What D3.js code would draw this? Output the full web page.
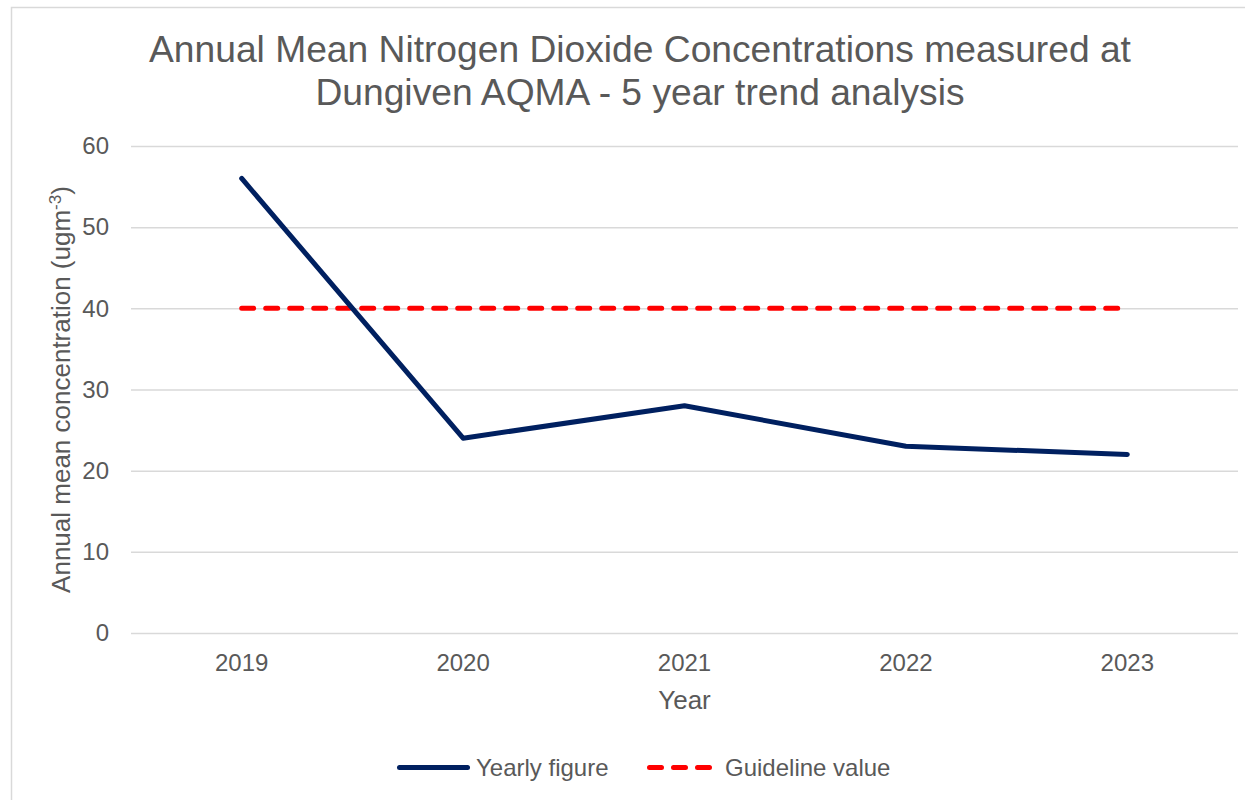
<!doctype html>
<html lang="en">
<head>
  <meta charset="utf-8">
  <title>Dungiven AQMA NO2 trend</title>
  <script src="https://d3js.org/d3.v7.min.js"></script>
<style>
  body { margin: 0; background: #fff; }
  text { font-family: "Liberation Sans", Arial, sans-serif; fill: #595959; }
</style>
</head>
<body>
<div id="chart"></div>
<script>
  // data
  var years = ["2019", "2020", "2021", "2022", "2023"];
  var yearly = [56, 24, 28, 23, 22];
  var guideline = [40, 40, 40, 40, 40];
  var yTicks = [0, 10, 20, 30, 40, 50, 60];

  var W = 1245, H = 800;
  var margin = {top: 146, right: 7, bottom: 167, left: 131},
      width = W - margin.left - margin.right,
      height = H - margin.top - margin.bottom;

  var svg = d3.select("#chart").append("svg")
      .attr("width", W)
      .attr("height", H);

  // outer chart border
  svg.append("rect")
      .attr("x", 11.5).attr("y", 7.5)
      .attr("width", W).attr("height", H)
      .attr("fill", "none")
      .attr("stroke", "#d9d9d9")
      .attr("stroke-width", 1.5);

  svg.append("text")
      .attr("x", 640).attr("y", 62)
      .attr("text-anchor", "middle")
      .style("font-size", "37.2px")
      .text("Annual Mean Nitrogen Dioxide Concentrations measured at");
  svg.append("text")
      .attr("x", 640).attr("y", 105)
      .attr("text-anchor", "middle")
      .style("font-size", "37.2px")
      .text("Dungiven AQMA - 5 year trend analysis");

  var g = svg.append("g")
      .attr("transform", "translate(" + margin.left + "," + margin.top + ")");

  var x = d3.scaleBand().domain(years).range([0, width]);
  var y = d3.scaleLinear().domain([0, 60]).range([height, 0]);

  // gridlines + y labels
  var yAxis = g.append("g")
      .call(d3.axisLeft(y).tickValues(yTicks).tickSize(-width).tickPadding(22));
  yAxis.select(".domain").remove();
  yAxis.selectAll(".tick line").attr("stroke", "#d9d9d9").attr("stroke-width", 1.5);
  yAxis.selectAll(".tick text").style("font-size", "24px").attr("fill", "#595959");

  var xAxis = g.append("g")
      .attr("transform", "translate(0," + height + ")")
      .call(d3.axisBottom(x).tickSize(0).tickPadding(21));
  xAxis.select(".domain").remove();
  xAxis.selectAll(".tick text").style("font-size", "24px").attr("fill", "#595959");

  g.append("text")
      .attr("x", width / 2).attr("y", height + 76)
      .attr("text-anchor", "middle")
      .style("font-size", "26px")
      .text("Year");

  var ylab = svg.append("text")
      .attr("transform", "translate(70," + (margin.top + height / 2) + ") rotate(-90)")
      .attr("text-anchor", "middle")
      .style("font-size", "26px");
  ylab.append("tspan").text("Annual mean concentration (ugm");
  ylab.append("tspan").attr("dy", -9).style("font-size", "17px").text("-3");
  ylab.append("tspan").attr("dy", 9).text(")");

  var line = d3.line()
      .x(function(d, i) { return x(years[i]) + x.bandwidth() / 2; })
      .y(function(d) { return y(d); });

  g.append("path")
      .datum(guideline)
      .attr("d", line)
      .attr("fill", "none")
      .attr("stroke", "#ff0000")
      .attr("stroke-width", 5)
      .attr("stroke-linecap", "round")
      .attr("stroke-dasharray", "12,12");

  g.append("path")
      .datum(yearly)
      .attr("d", line)
      .attr("fill", "none")
      .attr("stroke", "#002060")
      .attr("stroke-width", 5)
      .attr("stroke-linecap", "round")
      .attr("stroke-linejoin", "round");

  // legend
  var leg = svg.append("g").attr("transform", "translate(0,767.5)");
  leg.append("line")
      .attr("x1", 399.5).attr("x2", 467.5)
      .attr("stroke", "#002060").attr("stroke-width", 5)
      .attr("stroke-linecap", "round");
  leg.append("text").attr("x", 476).attr("y", 8.5)
      .style("font-size", "24px").text("Yearly figure");
  leg.append("line")
      .attr("x1", 649.5).attr("x2", 709.5)
      .attr("stroke", "#ff0000").attr("stroke-width", 5)
      .attr("stroke-linecap", "round")
      .attr("stroke-dasharray", "12,12");
  leg.append("text").attr("x", 725).attr("y", 8.5)
      .style("font-size", "24px").text("Guideline value");
</script>
</body>
</html>
